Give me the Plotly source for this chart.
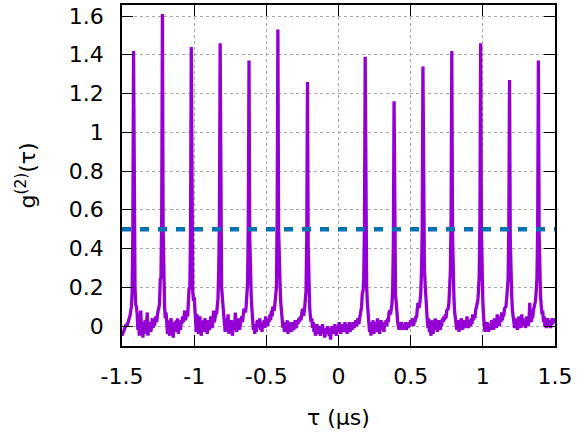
import numpy as np
import plotly.graph_objects as go

# g2(tau) measured values, sampled every 0.005 us from -1.5 to 1.5 us
g2 = [
    # -1.500 .. -1.450
    -0.05, -0.04, -0.04, -0.02, -0.01, 0.00, 0.01, 0.00, 0.02, 0.03, 0.04,
    # peak 1
    0.05, 0.07, 0.10, 0.17, 0.48, 1.42, 0.45, 0.20, 0.11, 0.10, 0.06,
    -0.02, 0.03, -0.05, 0.00, 0.08, -0.03, 0.01, -0.06, 0.02, -0.01, 0.03, -0.04, 0.00, 0.07, -0.05,
    0.01, -0.02, 0.02, -0.03, 0.01, 0.04, -0.01, 0.02, 0.00, 0.03, 0.05, 0.02, 0.06, 0.08,
    # peak 2
    0.09, 0.12, 0.24, 0.25, 0.55, 1.61, 0.50, 0.22, 0.10, 0.04, 0.07,
    0.02, -0.04, 0.03, 0.00, -0.05, 0.01, 0.04, -0.02, 0.00, -0.06, 0.02, 0.01, -0.03, 0.03, -0.01,
    0.04, -0.04, 0.00, 0.02, -0.02, 0.03, 0.01, 0.05, 0.02, 0.04, 0.08, 0.03, 0.06, 0.07,
    # peak 3
    0.05, 0.10, 0.20, 0.19, 0.50, 1.44, 0.48, 0.18, 0.13, 0.15, 0.09,
    0.04, -0.03, 0.06, 0.00, -0.04, 0.02, 0.05, -0.02, -0.05, 0.01, 0.03, -0.03, 0.00, 0.04, -0.01,
    0.02, -0.04, 0.01, 0.03, -0.02, 0.00, 0.05, 0.02, -0.01, 0.03, 0.08, 0.02, 0.05, 0.07,
    # peak 4
    0.06, 0.09, 0.14, 0.28, 0.55, 1.46, 0.50, 0.20, 0.15, 0.08, 0.05,
    0.01, -0.03, 0.04, -0.02, 0.00, 0.06, -0.04, 0.01, 0.03, -0.01, 0.02, -0.05, 0.00, 0.03, -0.02,
    0.07, 0.01, -0.03, 0.02, 0.00, 0.04, -0.02, 0.01, 0.03, 0.05, 0.02, 0.06, 0.09, 0.08,
    # peak 5
    0.07, 0.10, 0.15, 0.22, 0.52, 1.37, 0.46, 0.21, 0.16, 0.09, 0.04,
    -0.02, 0.00, -0.04, 0.01, -0.03, 0.02, 0.03, -0.01, 0.00, 0.04, -0.02, 0.01, -0.03, 0.02, 0.00,
    0.03, -0.01, 0.05, 0.01, 0.02, 0.00, 0.04, 0.02, 0.06, 0.03, 0.08, 0.05, 0.10, 0.09,
    # peak 6
    0.08, 0.12, 0.16, 0.20, 0.56, 1.53, 0.50, 0.24, 0.22, 0.12, 0.06,
    0.03, -0.01, 0.02, -0.03, 0.01, 0.00, -0.02, 0.03, -0.04, 0.00, 0.02, -0.01, 0.01, -0.03, 0.00,
    0.02, -0.02, 0.01, 0.03, -0.01, 0.00, 0.02, 0.01, 0.04, 0.02, 0.05, 0.03, 0.07, 0.09, 0.06,
    # peak 7
    0.06, 0.09, 0.12, 0.18, 0.45, 1.26, 0.42, 0.15, 0.10, 0.05, 0.02,
    # central region (no peak at tau = 0)
    0.04, -0.01, 0.02, -0.03, 0.00, -0.05, -0.02, 0.01, -0.04, -0.03, 0.00, -0.02, -0.05, -0.01, -0.03,
    0.01, -0.04, -0.02, -0.06, -0.03,
    -0.01, -0.04, 0.00, -0.02, -0.05, -0.03, -0.07, -0.02, 0.00, -0.04, -0.01, -0.03, 0.01, -0.02, -0.05,
    0.00, -0.03, -0.01, 0.02, -0.02,
    -0.04, 0.00, -0.02, 0.01, -0.03, -0.01, 0.02, -0.02, 0.00, -0.04, 0.01, -0.01, 0.02, -0.03, 0.00,
    0.01, -0.02, 0.02, 0.00, -0.01,
    0.01, 0.03, 0.00, 0.02, 0.04, 0.01, 0.03, 0.06, 0.08,
    # peak 8
    0.10, 0.17, 0.18, 0.25, 0.52, 1.39, 0.46, 0.20, 0.12, 0.06, 0.03,
    -0.03, 0.02, -0.05, 0.01, -0.02, 0.03, -0.04, 0.00, 0.02, -0.03, -0.01, 0.04, -0.02, 0.01, -0.04,
    0.00, 0.03, -0.02, 0.01, 0.00, -0.03, 0.02, 0.01, 0.03, 0.00, 0.04, 0.02, 0.07, 0.08,
    # peak 9
    0.06, 0.08, 0.11, 0.18, 0.42, 1.16, 0.40, 0.16, 0.12, 0.05, 0.02,
    0.00, -0.02, 0.01, -0.01, 0.02, 0.00, -0.02, 0.01, 0.00, -0.01, 0.02, -0.02, 0.00, 0.01, -0.01,
    0.02, 0.00, 0.03, 0.01, 0.02, 0.04, 0.00, 0.03, 0.02, 0.05, 0.04, 0.09, 0.12, 0.10,
    # peak 10
    0.10, 0.13, 0.17, 0.28, 0.50, 1.34, 0.52, 0.30, 0.22, 0.12, 0.08,
    0.03, -0.01, 0.04, -0.03, 0.02, -0.05, 0.00, 0.03, -0.04, 0.01, -0.02, 0.04, -0.01, 0.02, -0.03,
    0.00, 0.03, 0.01, -0.02, 0.02, 0.00, 0.04, 0.02, 0.05, 0.03, 0.06, 0.04, 0.08, 0.09,
    # peak 11
    0.09, 0.12, 0.20, 0.28, 0.55, 1.42, 0.48, 0.20, 0.14, 0.07, 0.04,
    0.01, -0.02, 0.03, 0.00, -0.03, 0.02, -0.01, 0.04, 0.00, -0.02, 0.01, 0.03, -0.01, 0.02, 0.00,
    0.05, 0.01, -0.01, 0.03, 0.02, 0.00, 0.04, 0.01, 0.06, 0.03, 0.05, 0.04, 0.08, 0.10,
    # peak 12
    0.11, 0.13, 0.18, 0.26, 0.56, 1.46, 0.50, 0.22, 0.13, 0.05, 0.01,
    -0.03, 0.00, -0.02, 0.02, -0.01, -0.03, 0.01, 0.00, -0.02, 0.03, -0.01, 0.01, -0.02, 0.04, 0.00,
    0.02, -0.01, 0.06, 0.01, 0.03, 0.00, 0.05, 0.02, 0.07, 0.03, 0.06, 0.05, 0.09, 0.10,
    # peak 13
    0.10, 0.14, 0.20, 0.24, 0.50, 1.27, 0.45, 0.24, 0.16, 0.08, 0.05,
    0.02, -0.01, 0.04, 0.00, 0.03, -0.02, 0.01, 0.05, 0.00, 0.02, -0.01, 0.06, 0.01, 0.03, 0.00,
    0.04, -0.01, 0.02, 0.05, 0.01, 0.00, 0.03, 0.12, 0.04, 0.02, 0.06, 0.04, 0.08, 0.10,
    # peak 14
    0.11, 0.13, 0.18, 0.25, 0.50, 1.37, 0.48, 0.24, 0.15, 0.10, 0.06,
    0.08, 0.02, 0.05, 0.00, 0.03, -0.01, 0.02, 0.04, 0.01, 0.00, 0.03, -0.01, 0.02, 0.04, 0.01,
    0.03, 0.02, 0.04,
]
tau = np.linspace(-1.5, 1.5, len(g2))

threshold_tau = [-1.5, 1.5]
threshold_g2 = [0.5, 0.5]

x_ticks = [-1.5, -1, -0.5, 0, 0.5, 1, 1.5]
x_tick_labels = ["-1.5", "-1", "-0.5", "0", "0.5", "1", "1.5"]
y_ticks = [0, 0.2, 0.4, 0.6, 0.8, 1.0, 1.2, 1.4, 1.6]
y_tick_labels = ["0", "0.2", "0.4", "0.6", "0.8", "1", "1.2", "1.4", "1.6"]

FONT = "DejaVu Sans"
FS = 22

fig = go.Figure()
fig.add_trace(go.Scatter(x=tau, y=g2, mode="lines",
                         line=dict(color="#9400D3", width=3.3), showlegend=False))
fig.add_trace(go.Scatter(x=threshold_tau, y=threshold_g2, mode="lines",
                         line=dict(color="#0072B2", width=4.5, dash="9px,9px"),
                         showlegend=False))

axis_common = dict(showline=True, linecolor="black", linewidth=1.5, mirror="ticks",
                   ticks="inside", ticklen=11, tickwidth=1.2, tickcolor="black",
                   showgrid=True, gridcolor="#a8a8a8", griddash="dot", gridwidth=1,
                   zeroline=False, automargin=False,
                   tickfont=dict(family=FONT, size=FS, color="black"))

fig.update_xaxes(range=[-1.5, 1.5], tickvals=x_ticks, ticktext=x_tick_labels,
                 ticklabelstandoff=10, **axis_common)
fig.update_yaxes(range=[-0.103, 1.657], tickvals=y_ticks, ticktext=y_tick_labels,
                 ticklabelstandoff=12, **axis_common)

PL, PR, PT, PB = 122, 32, 5, 86
W, H = 587, 432
fig.update_layout(
    width=W, height=H,
    margin=dict(l=PL, r=PR, t=PT, b=PB),
    plot_bgcolor="white", paper_bgcolor="white",
    font=dict(family=FONT, size=FS, color="black"),
    annotations=[
        dict(text="τ (µs)", x=0.5, xref="x domain",
             y=(H - PB - 417) / (H - PT - PB), yref="paper", yanchor="middle",
             showarrow=False, font=dict(family=FONT, size=FS)),
        dict(text="g<sup>(2)</sup>(τ)", x=(25 - PL) / (W - PL - PR), xref="paper",
             xanchor="center", y=0.5, yref="y domain",
             textangle=-90, showarrow=False, font=dict(family=FONT, size=FS)),
    ],
)

fig.write_html("out.html", config={"displayModeBar": False},
               post_script="document.body.style.margin='0px';")
